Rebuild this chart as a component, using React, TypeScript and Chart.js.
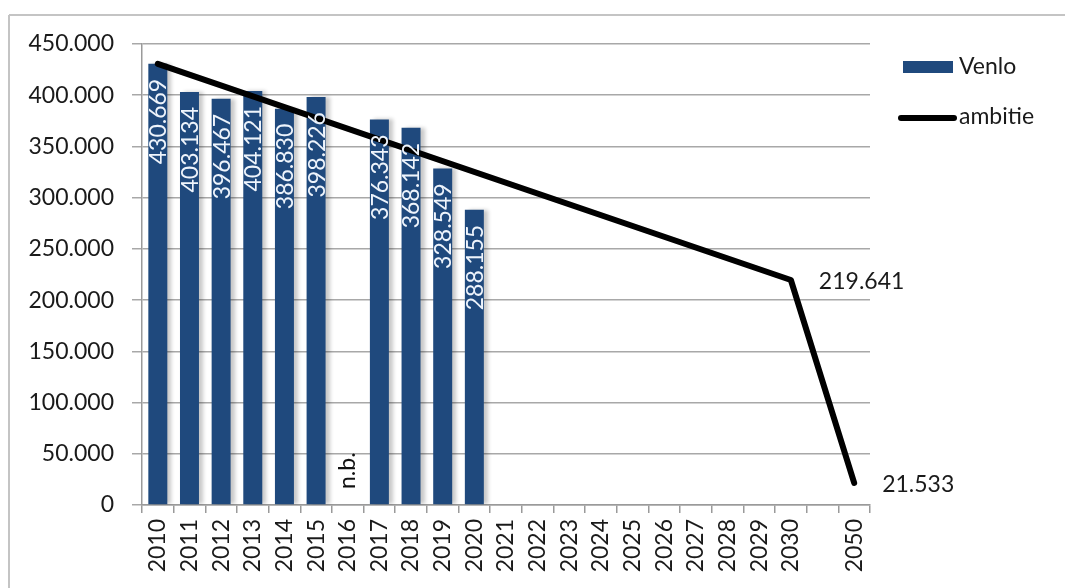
import React, { useEffect, useRef } from "react";
import { Chart, registerables } from "chart.js";

Chart.register(...registerables);

const years = ["2010","2011","2012","2013","2014","2015","2016","2017","2018","2019","2020","2021","2022","2023","2024","2025","2026","2027","2028","2029","2030","","2050"];
const venlo: (number | null)[] = [430669, 403134, 396467, 404121, 386830, 398226, null, 376343, 368142, 328549, 288155, null, null, null, null, null, null, null, null, null, null, null, null];
const ambitie: (number | null)[] = [430669, null, null, null, null, null, null, null, null, null, null, null, null, null, null, null, null, null, null, null, 219641, null, 21533];
const labelledAmbitie = [20, 22];
const missingIndex = 6;
const missingText = "n.b.";
const yTicksMax = 450000;
const yStep = 50000;

const BLUE = "#1F497D";
const FONT = "Lato";
const FS = 23;

const fmt = (v: number) => String(Math.round(v)).replace(/\B(?=(\d{3})+(?!\d))/g, ".");

export default function App() {
  const ref = useRef<HTMLCanvasElement | null>(null);

  useEffect(() => {
    document.body.style.margin = "0";
    const canvas = ref.current;
    if (!canvas) return;

    const framePlugin = {
      id: "frame",
      beforeDraw(chart: any) {
        const ctx = chart.ctx;
        ctx.save();
        ctx.fillStyle = "#ffffff";
        ctx.fillRect(0, 0, chart.width, chart.height);
        ctx.strokeStyle = "#c4c4c4";
        ctx.lineWidth = 2;
        ctx.beginPath();
        ctx.moveTo(9, 15);
        ctx.lineTo(chart.width, 15);
        ctx.moveTo(9, 15);
        ctx.lineTo(9, chart.height);
        ctx.stroke();
        ctx.restore();
      },
    };

    const shadowPlugin = {
      id: "barShadow",
      beforeDatasetDraw(chart: any, args: any) {
        if (args.index !== 0) return;
        const ctx = chart.ctx;
        ctx.save();
        ctx.shadowColor = "rgba(0,0,0,0.22)";
        ctx.shadowBlur = 4;
        ctx.shadowOffsetX = 4;
        ctx.shadowOffsetY = 0;
      },
      afterDatasetDraw(chart: any, args: any) {
        if (args.index !== 0) return;
        chart.ctx.restore();
      },
    };

    const labelsPlugin = {
      id: "valueLabels",
      afterDatasetsDraw(chart: any) {
        const ctx = chart.ctx;
        ctx.save();
        ctx.font = `${FS}px ${FONT}`;
        const barMeta = chart.getDatasetMeta(0);
        barMeta.data.forEach((bar: any, i: number) => {
          const v = venlo[i];
          if (v == null) return;
          ctx.save();
          ctx.translate(bar.x, bar.y + 15);
          ctx.rotate(-Math.PI / 2);
          ctx.textAlign = "right";
          ctx.textBaseline = "middle";
          ctx.fillStyle = "#eef4fc";
          ctx.fillText(fmt(v), 0, 1);
          ctx.restore();
        });
        const xs = chart.scales.x;
        ctx.save();
        ctx.translate(xs.getPixelForValue(missingIndex), 489);
        ctx.rotate(-Math.PI / 2);
        ctx.textAlign = "left";
        ctx.textBaseline = "middle";
        ctx.fillStyle = "#111";
        ctx.fillText(missingText, 0, 0);
        ctx.restore();
        const lineMeta = chart.getDatasetMeta(1);
        labelledAmbitie.forEach((i) => {
          const p = lineMeta.data[i];
          const v = ambitie[i];
          if (!p || v == null) return;
          ctx.textAlign = "left";
          ctx.textBaseline = "middle";
          ctx.fillStyle = "#1a1a1a";
          ctx.fillText(fmt(v), p.x + 28, p.y + 2);
        });
        ctx.restore();
      },
    };

    const legendPlugin = {
      id: "customLegend",
      afterDraw(chart: any) {
        const ctx = chart.ctx;
        ctx.save();
        ctx.font = `${FS}px ${FONT}`;
        ctx.textAlign = "left";
        ctx.textBaseline = "middle";
        ctx.fillStyle = BLUE;
        ctx.fillRect(903, 61, 50, 12);
        ctx.fillStyle = "#1a1a1a";
        ctx.fillText(chart.data.datasets[0].label, 959, 67);
        ctx.strokeStyle = "#000";
        ctx.lineWidth = 6;
        ctx.lineCap = "round";
        ctx.beginPath();
        ctx.moveTo(901, 118);
        ctx.lineTo(954, 118);
        ctx.stroke();
        ctx.fillText(chart.data.datasets[1].label, 959, 117);
        ctx.restore();
      },
    };

    const chart = new Chart(canvas, {
      type: "bar",
      data: {
        labels: years,
        datasets: [
          {
            type: "bar",
            label: "Venlo",
            data: venlo,
            backgroundColor: BLUE,
            barPercentage: 0.6,
            categoryPercentage: 1,
            order: 2,
          } as any,
          {
            type: "line",
            label: "ambitie",
            data: ambitie,
            borderColor: "#000",
            borderWidth: 6,
            pointRadius: 0,
            pointHoverRadius: 0,
            spanGaps: true,
            tension: 0,
            borderJoinStyle: "round",
            borderCapStyle: "round",
            order: 1,
          } as any,
        ],
      },
      options: {
        responsive: false,
        animation: false,
        events: [],
        layout: { padding: { top: 44, right: 195, left: 0, bottom: 0 } },
        plugins: {
          legend: { display: false },
          tooltip: { enabled: false },
        },
        scales: {
          x: {
            offset: true,
            grid: {
              display: true,
              offset: true,
              drawOnChartArea: false,
              drawTicks: true,
              tickLength: 8,
              color: "#9a9a9a",
              lineWidth: 1.5,
            },
            border: { color: "#9a9a9a", width: 1.5 },
            ticks: {
              autoSkip: false,
              minRotation: 90,
              maxRotation: 90,
              padding: 6,
              color: "#1a1a1a",
              font: { family: FONT, size: FS },
            },
            afterFit: (s: any) => {
              s.height = 83;
            },
          },
          y: {
            min: 0,
            max: yTicksMax,
            ticks: {
              stepSize: yStep,
              padding: 18,
              color: "#1a1a1a",
              font: { family: FONT, size: FS },
              callback: (v: any) => fmt(Number(v)),
            },
            grid: {
              color: "#a8a8a8",
              lineWidth: 1.5,
              tickLength: 10,
              drawTicks: true,
            },
            border: { color: "#9a9a9a", width: 1.5 },
            afterFit: (s: any) => {
              s.width = 142;
            },
          },
        },
      },
      plugins: [framePlugin, shadowPlugin, labelsPlugin, legendPlugin],
    });

    return () => chart.destroy();
  }, []);

  return <canvas ref={ref} width={1065} height={588} style={{ display: "block" }} />;
}
